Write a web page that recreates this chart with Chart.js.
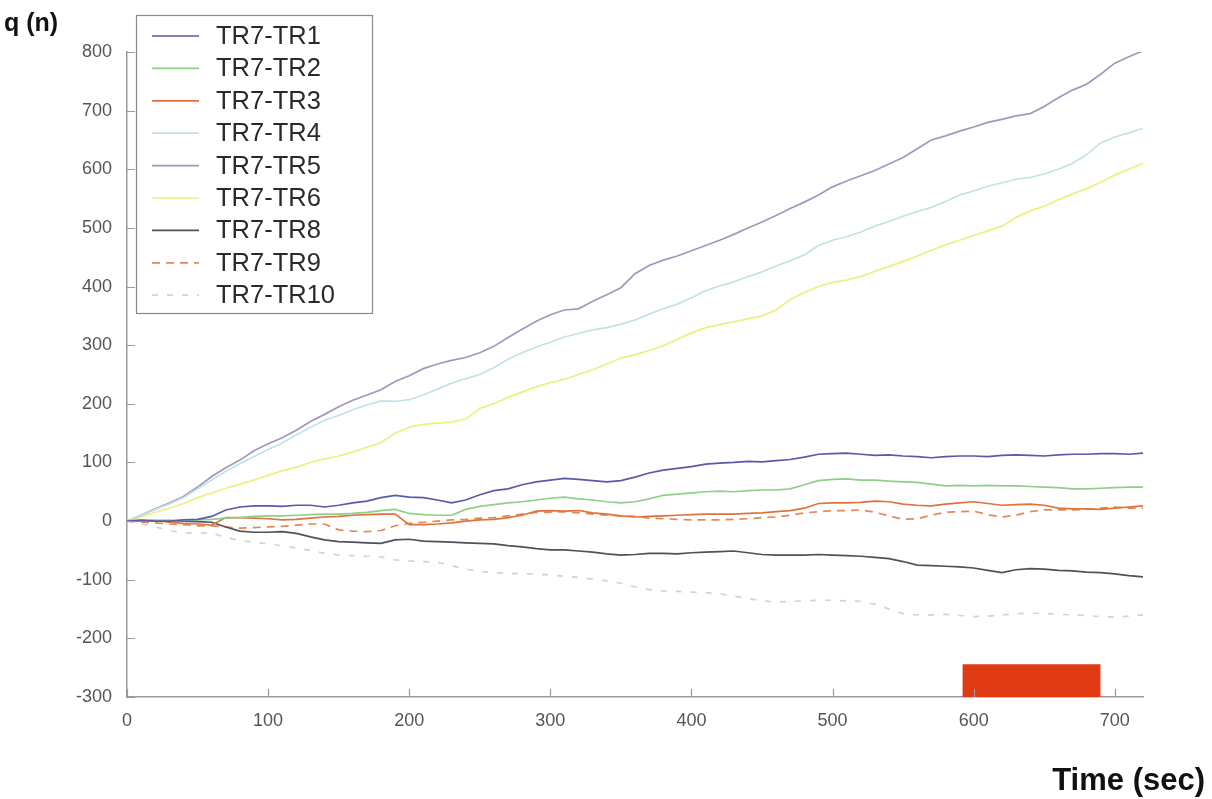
<!DOCTYPE html>
<html>
<head>
<meta charset="utf-8">
<script src="https://cdn.jsdelivr.net/npm/chart.js@4/dist/chart.umd.min.js"></script>
<style>html,body{margin:0;padding:0;background:#fff}canvas{display:block}</style>
</head>
<body>
<canvas id="c" width="1212" height="799"></canvas>
<script>
// ---- data ----
const times = [0,10,20,30,40,50,60,70,80,90,100,110,120,130,140,150,160,170,180,190,200,210,220,230,240,250,260,270,280,290,300,310,320,330,340,350,360,370,380,390,400,410,420,430,440,450,460,470,480,490,500,510,520,530,540,550,560,570,580,590,600,610,620,630,640,650,660,670,680,690,700,710,720];
const tr1  = [0,1,0,0,2,3,8,19,24,26,26,25,27,27,24,27,31,34,40,44,41,40,36,31,36,45,52,55,62,67,70,73,71,69,67,69,75,82,87,90,93,97,99,100,102,101,103,105,109,114,115,116,114,112,113,111,110,108,110,111,111,110,112,113,112,111,113,114,114,115,115,114,116];
const tr2  = [0,0,0,1,1,2,3,5,6,8,9,9,10,11,12,12,13,15,18,20,13,11,10,10,20,25,28,31,33,36,39,41,38,36,33,31,33,38,44,46,48,50,51,50,52,53,53,55,62,69,71,72,70,70,68,67,66,63,60,61,60,61,60,60,59,58,57,55,55,56,57,58,58];
const tr3  = [0,2,1,-2,-4,-5,-7,6,6,5,4,2,3,5,7,8,10,11,12,12,-6,-6,-5,-3,0,2,3,6,10,17,18,17,18,14,12,9,7,8,9,10,11,12,12,12,13,14,16,18,22,30,31,31,32,34,33,29,27,26,29,31,33,30,27,28,29,27,22,21,21,20,22,24,26];
const tr4  = [0,9,20,29,40,55,70,85,98,110,122,133,147,160,172,180,190,198,205,204,207,215,225,235,243,250,262,276,287,297,305,314,320,326,330,336,343,353,362,370,381,393,401,408,417,425,435,444,454,470,479,485,493,503,511,520,528,535,545,556,563,571,577,583,586,592,600,610,625,645,655,662,670];
const tr5  = [0,10,21,31,42,58,76,91,104,120,132,142,155,170,182,195,206,215,224,238,248,260,268,274,279,287,298,313,327,341,352,360,362,375,386,398,422,436,445,452,461,470,479,489,500,510,521,533,544,556,570,580,589,598,609,620,635,650,657,665,672,680,685,691,695,707,722,735,745,762,781,792,802];
const tr6  = [0,7,15,22,30,40,48,56,63,70,78,86,92,100,106,111,118,126,134,150,160,165,167,169,174,192,200,211,220,229,236,242,250,258,268,278,284,291,299,310,321,330,335,340,345,350,360,378,390,400,407,411,417,426,434,443,452,462,471,479,487,495,503,518,529,537,548,558,567,578,590,600,610];
const tr8  = [0,0,1,1,0,-1,-2,-10,-17,-19,-19,-18,-21,-27,-32,-35,-36,-37,-38,-32,-31,-34,-35,-36,-37,-38,-39,-42,-44,-47,-49,-49,-51,-53,-56,-58,-57,-55,-55,-56,-54,-53,-52,-51,-54,-57,-58,-58,-58,-57,-58,-59,-60,-62,-64,-69,-75,-76,-77,-78,-80,-84,-88,-83,-81,-82,-84,-85,-87,-88,-90,-93,-95];
const tr9  = [0,-2,-3,-5,-6,-8,-8,-10,-12,-11,-10,-9,-7,-5,-5,-15,-17,-18,-16,-8,-4,-2,0,2,3,5,6,9,12,15,15,16,14,12,10,9,8,5,4,3,2,2,2,3,4,6,7,10,14,16,18,18,19,15,9,3,4,10,15,16,17,11,7,10,16,19,19,19,20,22,24,22,22];
const tr10 = [0,-5,-10,-16,-20,-20,-20,-28,-33,-36,-39,-42,-46,-50,-55,-58,-59,-60,-61,-66,-68,-69,-70,-76,-82,-86,-88,-89,-90,-90,-92,-94,-96,-99,-102,-106,-112,-117,-119,-120,-121,-122,-124,-128,-132,-136,-138,-137,-136,-135,-135,-136,-137,-142,-150,-158,-160,-160,-159,-161,-163,-162,-160,-158,-157,-158,-159,-160,-161,-163,-164,-162,-160];
const seriesNames = ['TR7-TR1','TR7-TR2','TR7-TR3','TR7-TR4','TR7-TR5','TR7-TR6','TR7-TR8','TR7-TR9','TR7-TR10'];
const stimTimes = [592, 690];   // red bar start / end (sec)
const stimRange = [-300, -244]; // red bar bottom / top (q)
const xTicks = [0,100,200,300,400,500,600,700];
const yTicks = [-300,-200,-100,0,100,200,300,400,500,600,700,800];

// ---- styles ----
const seriesValues = [tr1,tr2,tr3,tr4,tr5,tr6,tr8,tr9,tr10];
const colors = ['#5a5ba8','#8fcf88','#e0733a','#c2e2e8','#a496bc','#eef07c','#50505e','#e2895a','#c9d6de'];
const dashes = [[],[],[],[],[],[],[],[8,6],[6,9]];
const FONT = '"Liberation Sans", Arial, Helvetica, sans-serif';

const datasets = seriesValues.map((vals, i) => ({
  label: seriesNames[i],
  data: times.map((t, k) => ({x: t, y: vals[k]})),
  borderColor: colors[i],
  borderWidth: 1.7,
  borderDash: dashes[i],
  pointRadius: 0,
  tension: 0,
  fill: false
}));
datasets.push({
  label: 'stimulus',
  data: stimTimes.map(t => ({x: t, y: stimRange[1]})),
  borderColor: '#e03a12',
  backgroundColor: '#e03a12',
  borderWidth: 0,
  pointRadius: 0,
  fill: {value: stimRange[0]}
});

const decor = {
  id: 'decor',
  afterDraw(chart) {
    const ctx = chart.ctx, xs = chart.scales.x, ys = chart.scales.y;
    ctx.save();
    // inward tick marks
    ctx.strokeStyle = '#9a9a9a';
    ctx.lineWidth = 1.2;
    ctx.beginPath();
    xTicks.forEach(v => { const px = Math.round(xs.getPixelForValue(v)) + 0.5; ctx.moveTo(px, ys.bottom); ctx.lineTo(px, ys.bottom - 8); });
    yTicks.forEach(v => { const py = Math.round(ys.getPixelForValue(v)) + 0.5; ctx.moveTo(xs.left, py); ctx.lineTo(xs.left + 8, py); });
    ctx.stroke();
    // axis titles
    ctx.fillStyle = '#111';
    ctx.font = 'bold 25px ' + FONT;
    ctx.textAlign = 'left';
    ctx.textBaseline = 'alphabetic';
    ctx.fillText('q (n)', 4, 31);
    ctx.font = 'bold 31px ' + FONT;
    ctx.textAlign = 'right';
    ctx.fillText('Time (sec)', 1205, 790);
    // legend
    ctx.fillStyle = '#fff';
    ctx.fillRect(136.5, 15.5, 236, 298);
    ctx.strokeStyle = '#8a8a8a';
    ctx.lineWidth = 1.2;
    ctx.strokeRect(136.5, 15.5, 236, 298);
    ctx.font = '25.5px ' + FONT;
    ctx.textAlign = 'left';
    ctx.textBaseline = 'middle';
    seriesNames.forEach((name, i) => {
      const y = 36 + i * 32.4;
      ctx.strokeStyle = colors[i];
      ctx.lineWidth = 1.7;
      ctx.setLineDash(dashes[i]);
      ctx.beginPath();
      ctx.moveTo(152, y); ctx.lineTo(199, y);
      ctx.stroke();
      ctx.setLineDash([]);
      ctx.fillStyle = '#2a2a2a';
      ctx.fillText(name, 216, y + 1);
    });
    ctx.restore();
  }
};

new Chart(document.getElementById('c'), {
  type: 'line',
  data: {datasets},
  options: {
    responsive: false,
    animation: false,
    devicePixelRatio: 1,
    layout: {padding: {left: 0, right: 69, top: 52, bottom: 0}},
    plugins: {legend: {display: false}, tooltip: {enabled: false}},
    scales: {
      x: {
        type: 'linear', min: 0, max: 720,
        afterBuildTicks: s => { s.ticks = xTicks.map(v => ({value: v})); },
        afterFit: s => { s.height = 102; },
        ticks: {font: {size: 18, family: FONT}, color: '#555', padding: 13, maxRotation: 0, autoSkip: false},
        grid: {display: false, drawTicks: false},
        border: {display: true, color: '#9a9a9a', width: 1.5}
      },
      y: {
        type: 'linear', min: -300, max: 800,
        afterBuildTicks: s => { s.ticks = yTicks.map(v => ({value: v})); },
        afterFit: s => { s.width = 127; },
        ticks: {font: {size: 18, family: FONT}, color: '#555', padding: 15, autoSkip: false},
        grid: {display: false, drawTicks: false},
        border: {display: true, color: '#9a9a9a', width: 1.5}
      }
    }
  },
  plugins: [decor]
});
</script>
</body>
</html>
